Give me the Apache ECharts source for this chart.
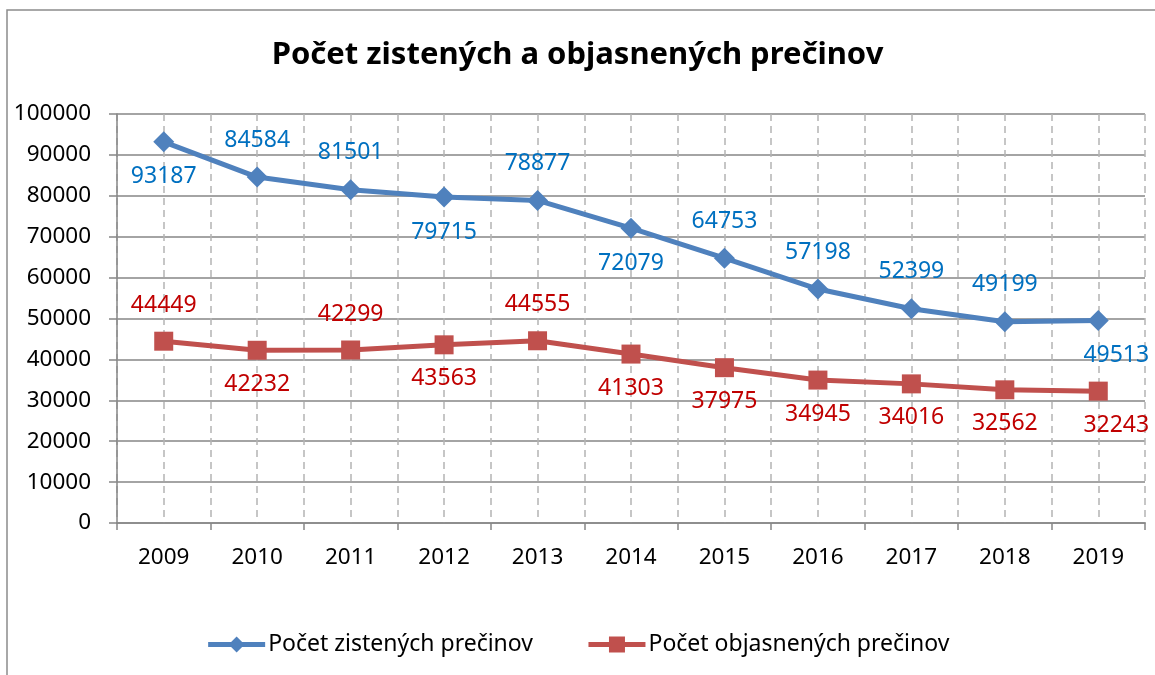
<!DOCTYPE html>
<html>
<head>
<meta charset="utf-8">
<script src="https://cdn.jsdelivr.net/npm/echarts@6/dist/echarts.min.js"></script>
<style>
html,body{margin:0;padding:0;background:#fff;}
#chart{width:1155px;height:675px;}
</style>
</head>
<body>
<div id="chart"></div>
<script>
var years = ['2009','2010','2011','2012','2013','2014','2015','2016','2017','2018','2019'];
var zistene = [93187,84584,81501,79715,78877,72079,64753,57198,52399,49199,49513];
var objasnene = [44449,42232,42299,43563,44555,41303,37975,34945,34016,32562,32243];
var yTicks = [0,10000,20000,30000,40000,50000,60000,70000,80000,90000,100000];

// umiestnenie popiskov (nad / pod bodom)
var zisteneLbl = ['bottom','top','top','bottom','top','bottom','top','top','top','top','bottom'];
var objasLbl = ['top','bottom','top','bottom','top','bottom','bottom','bottom','bottom','bottom','bottom'];

var font = 'Noto Sans';

function withLabels(values, pos){
	var res = [];
	for (var i = 0; i < values.length; i++) {
		var lbl = {position: pos[i], distance: pos[i] == 'top' ? 15 : 13};
		// posledny popisok je v exceli posunuty doprava
		if (i == values.length - 1) lbl.offset = [18, 0];
		res.push({value: values[i], label: lbl});
	}
	return res;
}

var myChart = echarts.init(document.getElementById('chart'));
var option = {
	animation: false,
	title: {
		text: 'Počet zistených a objasnených prečinov',
		left: 'center',
		top: 35,
		textStyle: {fontFamily: font, fontSize: 31, fontWeight: 'bold', color: '#000'}
	},
	graphic: [{
		type: 'rect',
		shape: {x: 7, y: 10, width: 1160, height: 700},
		style: {fill: 'none', stroke: '#8c8c8c', lineWidth: 1.5},
		silent: true
	}],
	legend: {
		bottom: 14,
		left: 'center',
		itemWidth: 57,
		itemHeight: 20,
		itemGap: 53,
		textStyle: {fontFamily: font, fontSize: 23, color: '#000', padding: [0, 0, 0, -2]},
		lineStyle: {width: 5},
		data: ['Počet zistených prečinov', 'Počet objasnených prečinov']
	},
	grid: {left: 117, right: 10, top: 114, bottom: 152},
	xAxis: [{
		type: 'category',
		data: years,
		boundaryGap: true,
		axisLine: {lineStyle: {color: '#868686', width: 1.5}},
		axisTick: {show: true, length: 7, lineStyle: {color: '#868686', width: 1.5}},
		axisLabel: {fontFamily: font, fontSize: 22.5, color: '#000', margin: 23},
		splitLine: {show: false}
	}, {
		type: 'value',
		min: 0,
		max: years.length,
		interval: 0.5,
		show: true,
		axisLine: {show: false},
		axisTick: {show: false},
		axisLabel: {show: false},
		splitLine: {show: true, lineStyle: {color: '#b4b4b4', type: [7, 5], width: 1.5}}
	}],
	yAxis: {
		type: 'value',
		min: yTicks[0],
		max: yTicks[yTicks.length - 1],
		interval: 10000,
		axisLine: {show: true, lineStyle: {color: '#868686', width: 1.5}},
		axisTick: {show: true, length: 8, lineStyle: {color: '#868686', width: 1.5}},
		axisLabel: {fontFamily: font, fontSize: 22.5, color: '#000', margin: 26,
			formatter: function (v) { return String(v); }},
		splitLine: {lineStyle: {color: '#868686', width: 1.5}}
	},
	series: [{
		name: 'Počet zistených prečinov',
		type: 'line',
		data: withLabels(zistene, zisteneLbl),
		symbol: 'diamond',
		symbolSize: 21,
		lineStyle: {color: '#4f81bd', width: 5},
		itemStyle: {color: '#4f81bd'},
		label: {show: true, fontFamily: font, fontSize: 23, color: '#0070c0'}
	}, {
		name: 'Počet objasnených prečinov',
		type: 'line',
		data: withLabels(objasnene, objasLbl),
		symbol: 'rect',
		symbolSize: 19,
		lineStyle: {color: '#c0504d', width: 5},
		itemStyle: {color: '#c0504d'},
		label: {show: true, fontFamily: font, fontSize: 23, color: '#c00000'}
	}]
};
myChart.setOption(option, true);
</script>
</body>
</html>
